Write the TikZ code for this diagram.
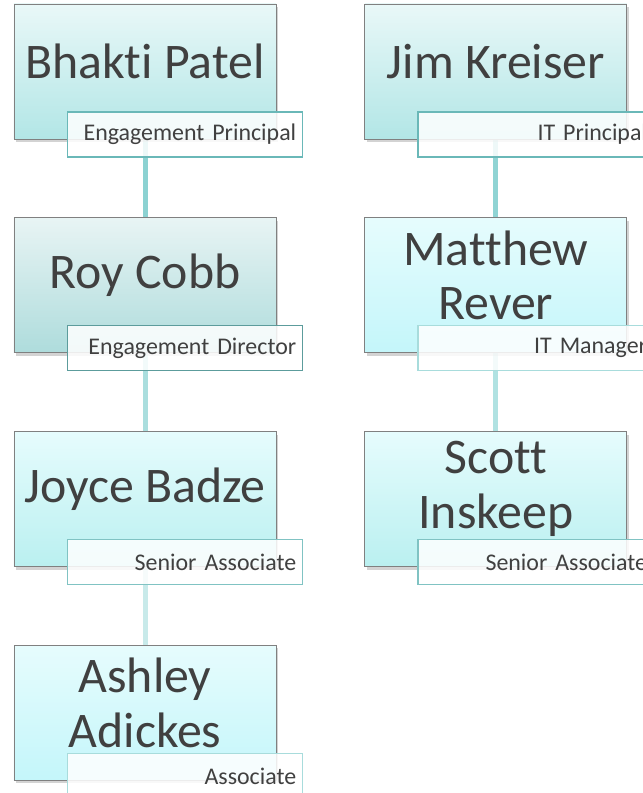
\documentclass[tikz,border=0pt]{standalone}
\usepackage{fontspec}
\setmainfont{Carlito}[Ligatures=NoCommon]
\usetikzlibrary{positioning,shadows,backgrounds}
\definecolor{NameGray}{RGB}{64,64,64}
\definecolor{BoxEdge}{RGB}{128,128,128}
\definecolor{TealTop}{RGB}{233,248,248}
\definecolor{TealBottom}{RGB}{178,230,230}
\definecolor{GreyTop}{RGB}{232,244,244}
\definecolor{GreyBottom}{RGB}{174,220,220}
\definecolor{CyanTop}{RGB}{230,252,253}
\definecolor{CyanBottom}{RGB}{196,246,250}
\definecolor{MidBottom}{RGB}{186,240,240}
\definecolor{TagEdge}{RGB}{106,184,184}
\definecolor{TagDark}{RGB}{92,156,156}
\definecolor{TagLight}{RGB}{168,220,220}

\begin{document}
\begin{tikzpicture}[x=1bp, y=1bp,
      every node/.style={text=NameGray},
      person/.style={draw=BoxEdge, line width=0.8bp, minimum width=262bp, minimum height=135bp, inner sep=0pt,
        top color=TealTop, bottom color=TealBottom,
        drop shadow={shadow xshift=2bp, shadow yshift=-3bp, opacity=0.35}},
      grey/.style={person, top color=GreyTop, bottom color=GreyBottom},
      cyan/.style={person, top color=CyanTop, bottom color=CyanBottom},
      mid/.style={person, top color=CyanTop, bottom color=MidBottom},
      who/.style={font=\fontsize{50}{55}\selectfont, align=center, inner sep=0pt},
      tag/.style={draw=TagEdge, line width=1.2bp, fill=white, fill opacity=0.85, text opacity=1,
        minimum height=45bp, text width=223bp, inner xsep=6bp, align=right,
        font=\fontsize{24}{28}\selectfont, anchor=north west},
      link/.style={line width=5bp}
  ]
    \useasboundingbox (0,0) rectangle (643,793);
    \clip (0,0) rectangle (643,793);
    % left column
    \node[person] (bhakti) at (145,721.5) {};
    \node[grey, below=78bp of bhakti] (roy) {};
    \node[mid, below=78bp of roy] (joyce) {};
    \node[cyan, below=78bp of joyce] (ashley) {};
    % right column
    \node[person, right=88bp of bhakti] (jim) {};
    \node[cyan, right=88bp of roy] (matthew) {};
    \node[mid, right=88bp of joyce] (scott) {};
    \begin{scope}[on background layer]
      \draw[link, draw={rgb,255:red,140;green,210;blue,210}] (bhakti) -- (roy);
      \draw[link, draw={rgb,255:red,170;green,222;blue,222}] (roy) -- (joyce);
      \draw[link, draw={rgb,255:red,200;green,234;blue,234}] (joyce) -- (ashley);
      \draw[link, draw={rgb,255:red,144;green,212;blue,212}] (jim) -- (matthew);
      \draw[link, draw={rgb,255:red,176;green,226;blue,226}] (matthew) -- (scott);
    \end{scope}
    \node[who] (bhaktiname) at ([yshift=10bp]bhakti.center) {Bhakti Patel};
    \node[who] (royname) at ([yshift=10bp]roy.center) {Roy Cobb};
    \node[who] (joycename) at ([yshift=10bp]joyce.center) {Joyce Badze};
    \node[who] (ashleyname) at ([yshift=10bp]ashley.center) {Ashley\\Adickes};
    \node[who] (jimname) at ([yshift=10bp]jim.center) {Jim Kreiser};
    \node[who] (matthewname) at ([yshift=10bp]matthew.center) {Matthew\\Rever};
    \node[who] (scottname) at ([yshift=10bp]scott.center) {Scott\\Inskeep};
    \node[tag] (bhaktitag) at ([xshift=53bp, yshift=28bp]bhakti.south west) {Engagement Principal};
    \node[tag, draw=TagDark] (roytag) at ([xshift=53bp, yshift=28bp]roy.south west) {Engagement Director};
    \node[tag, draw=TagEdge!85] (joycetag) at ([xshift=53bp, yshift=28bp]joyce.south west) {Senior Associate};
    \node[tag, draw=TagLight] (ashleytag) at ([xshift=53bp, yshift=28bp]ashley.south west) {Associate};
    \node[tag] (jimtag) at ([xshift=53bp, yshift=28bp]jim.south west) {IT Principal};
    \node[tag, draw=TagLight] (matthewtag) at ([xshift=53bp, yshift=28bp]matthew.south west) {IT Manager};
    \node[tag, draw=TagEdge!85] (scotttag) at ([xshift=53bp, yshift=28bp]scott.south west) {Senior Associate};
  \end{tikzpicture}
\end{document}
